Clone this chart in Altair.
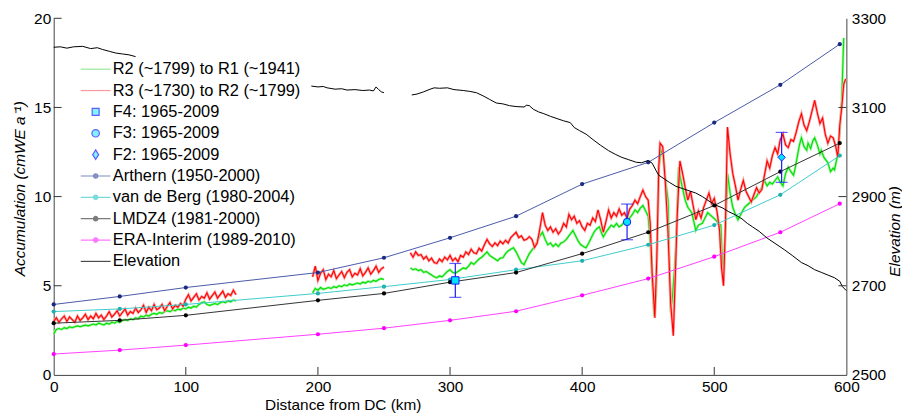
import altair as alt
import pandas as pd

FONT = "Liberation Sans"

# ---------------- data ----------------
model_km = [0, 50, 100, 200, 250, 300, 350, 400, 450, 500, 550, 595]
arthern = [3.95, 4.4, 4.9, 5.74, 6.57, 7.69, 8.9, 10.7, 11.92, 14.15, 16.27, 18.55]
vdberg = [3.55, 3.7, 3.95, 4.57, 4.95, 5.35, 5.9, 6.4, 7.3, 8.4, 10.1, 12.3]
lmdz4 = [2.9, 3.06, 3.34, 4.18, 4.57, 5.2, 5.74, 6.8, 8.0, 9.5, 11.4, 13.0]
era = [1.17, 1.39, 1.67, 2.28, 2.62, 3.06, 3.57, 4.46, 5.4, 6.63, 8.0, 9.6]

f_km = [304, 434, 551]
f_val = [5.3, 8.58, 12.2]
f_err = [0.95, 1.0, 1.4]

seg_a_km = list(range(0, 140, 2))
red_a = [3.0, 3.2, 2.95, 3.15, 3.3, 3.0, 3.25, 3.1, 2.95, 3.3,
         3.05, 3.2, 3.4, 3.1, 3.3, 3.15, 3.45, 3.2, 3.35, 3.1,
         3.3, 3.55, 3.25, 3.4, 3.6, 3.3, 3.5, 3.7, 3.35, 3.55,
         3.45, 3.75, 3.5, 3.65, 3.9, 3.5, 3.8, 3.6, 3.95, 3.65,
         3.75, 3.95, 3.6, 3.85, 4.05, 3.7, 3.9, 3.8, 4.0, 3.85,
         4.25, 4.5, 4.15, 4.35, 4.55, 4.2, 4.4, 4.3, 4.6, 4.25,
         4.45, 4.65, 4.3, 4.5, 4.7, 4.35, 4.55, 4.45, 4.75, 4.5]
green_a = [2.3, 2.55, 2.6, 2.55, 2.65, 2.6, 2.7, 2.65, 2.7, 2.75,
           2.7, 2.75, 2.8, 2.75, 2.8, 2.85, 2.8, 2.9, 2.85, 2.8,
           2.9, 2.85, 2.95, 2.9, 3.0, 2.95, 3.05, 3.1, 3.05, 3.15,
           3.1, 3.2, 3.15, 3.3, 3.25, 3.35, 3.3, 3.4, 3.45, 3.4,
           3.5, 3.45, 3.55, 3.6, 3.55, 3.65, 3.6, 3.7, 3.65, 3.75,
           3.7, 3.8, 3.75, 3.85, 3.8, 3.95, 4.05, 4.1, 3.95, 3.9,
           3.95, 4.0, 3.95, 4.05, 4.1, 4.05, 4.15, 4.1, 4.2, 4.15]

seg_b_km = list(range(196, 252, 2))
red_b = [5.5, 6.1, 5.3, 5.7, 5.9, 5.35, 5.65, 5.5, 5.85, 5.4,
         5.6, 5.8, 5.45, 5.75, 5.9, 5.5, 5.7, 5.6, 5.95, 5.55,
         5.75, 6.0, 5.65, 5.85, 6.1, 5.75, 5.95, 6.05]
green_b = [4.6, 4.85, 4.75, 4.9, 4.8, 4.85, 4.9, 4.85, 4.95, 4.9,
           5.0, 4.95, 5.05, 5.0, 5.1, 5.05, 5.1, 5.15, 5.1, 5.2,
           5.15, 5.25, 5.2, 5.3, 5.25, 5.35, 5.4, 5.35]

red_c = [(270, 6.85), (272, 6.6), (274, 6.9), (276, 6.7), (278, 6.75), (280, 6.5), (282, 6.65),
         (284, 6.4), (286, 6.55), (288, 6.3), (290, 6.25), (292, 6.5), (294, 6.35), (296, 6.6),
         (298, 6.45), (300, 6.7), (302, 6.4), (304, 6.55), (306, 6.35), (308, 6.7), (310, 6.6),
         (312, 6.9), (314, 6.75), (316, 7.05), (318, 6.85), (320, 6.8), (322, 7.1), (324, 6.95),
         (326, 7.3), (328, 7.6), (330, 7.35), (332, 7.2), (334, 7.4), (336, 7.25), (338, 7.5),
         (340, 7.35), (342, 7.55), (344, 7.4), (346, 7.7), (348, 7.85), (350, 8.0), (352, 7.7),
         (354, 7.8), (356, 7.55), (358, 7.6), (360, 7.75), (362, 7.6), (364, 7.15), (366, 7.4),
         (368, 8.2), (370, 9.1), (372, 8.4), (374, 8.1), (376, 8.3), (378, 8.0), (380, 8.2),
         (382, 7.9), (384, 8.1), (386, 8.5), (388, 8.3), (390, 9.0), (392, 8.7), (394, 8.9),
         (396, 8.5), (398, 8.65), (400, 8.3), (402, 8.1), (404, 8.5), (406, 8.4), (408, 8.8),
         (410, 8.6), (412, 9.25), (414, 8.7), (416, 8.0), (418, 8.6), (420, 9.25), (422, 8.8),
         (424, 9.1), (426, 8.9), (428, 9.3), (430, 8.95), (432, 9.1), (434, 8.8), (436, 9.3),
         (438, 9.5), (440, 9.8), (442, 9.6), (444, 10.0), (446, 10.36), (448, 10.0), (450, 9.8),
         (451.5, 8.5), (453, 5.7), (455, 3.2), (456.5, 6.5), (458, 11.65), (459, 13.0), (461, 12.8),
         (463, 10.75), (465, 8.0), (467, 4.0), (469, 2.2), (470.5, 5.5), (472, 9.0), (474, 12.0),
         (476, 11.3), (478, 10.5), (480, 9.8), (482, 10.3), (484, 9.5), (486, 8.7), (488, 9.2),
         (490, 8.8), (492, 9.4), (494, 9.8), (496, 10.2), (498, 9.6), (500, 9.9), (502, 9.2),
         (504, 8.1), (505.5, 6.0), (507, 5.0), (508.5, 8.5), (510, 13.9), (512, 12.4), (514, 11.3),
         (516, 10.6), (518, 9.8), (520, 10.4), (522, 10.9), (524, 10.3), (526, 10.0), (528, 9.7),
         (530, 10.1), (532, 10.5), (534, 10.2), (536, 10.4), (538, 11.2), (540, 12.0), (542, 11.6),
         (544, 12.3), (546, 12.75), (548, 12.4), (550, 13.2), (552, 13.5), (554, 12.9), (556, 12.75),
         (558, 13.2), (560, 13.1), (562, 13.6), (564, 14.2), (566, 14.65), (568, 14.0), (570, 13.7),
         (572, 14.2), (574, 14.8), (576, 15.4), (578, 14.7), (580, 14.1), (582, 14.4), (584, 13.5),
         (586, 13.0), (588, 13.4), (590, 13.3), (592, 12.8), (593.5, 12.2), (595, 14.0),
         (596.5, 15.0), (598, 16.3), (599.5, 16.6)]

green_c = [(270, 6.0), (272, 5.9), (274, 5.95), (276, 5.85), (278, 5.9), (280, 5.75), (282, 5.8),
           (284, 5.7), (286, 5.6), (288, 5.5), (290, 5.45), (292, 5.55), (294, 5.5), (296, 5.65),
           (298, 5.8), (300, 5.9), (302, 5.75), (304, 5.7), (306, 5.8), (308, 5.9), (310, 6.0),
           (312, 5.95), (314, 6.1), (316, 6.3), (318, 6.2), (320, 6.35), (322, 6.5), (324, 6.6),
           (326, 6.75), (328, 6.9), (330, 6.7), (332, 6.6), (334, 6.5), (336, 6.4), (338, 6.55),
           (340, 6.57), (342, 6.8), (344, 6.95), (346, 7.05), (348, 7.13), (350, 6.9), (352, 6.6),
           (354, 6.3), (356, 6.18), (358, 6.5), (360, 6.8), (362, 7.0), (364, 7.2), (366, 7.5),
           (368, 7.8), (370, 8.0), (372, 7.6), (374, 7.3), (376, 7.4), (378, 7.2), (380, 7.35),
           (382, 7.2), (384, 7.4), (386, 7.46), (388, 7.6), (390, 7.8), (392, 8.0), (393, 8.1),
           (395, 7.8), (397, 7.5), (399, 7.3), (401, 7.2), (403, 7.13), (405, 7.4), (407, 7.7),
           (409, 8.0), (411, 8.2), (413, 8.3), (415, 7.9), (416, 7.74), (418, 8.0), (420, 8.2),
           (422, 8.4), (424, 8.3), (426, 8.5), (428, 8.3), (430, 8.4), (432, 8.6), (434, 8.5),
           (436, 8.8), (438, 9.0), (440, 9.25), (442, 9.1), (444, 9.35), (446, 9.5), (448, 9.2),
           (450, 8.9), (451.5, 7.5), (453, 5.35), (454.5, 3.3), (456, 4.5), (457, 8.0), (458, 11.65),
           (459.5, 12.4), (461, 12.7), (463, 11.0), (465, 9.8), (466, 6.5), (467, 3.5), (468.5, 4.5),
           (470, 6.0), (471, 7.3), (472, 9.5), (473, 11.65), (475, 10.8), (478, 9.8), (480, 9.4),
           (483, 9.1), (486, 8.1), (488, 8.4), (491, 8.5), (493, 8.8), (495, 9.1), (498, 8.9),
           (501, 8.7), (503, 8.5), (505, 8.4), (506, 6.5), (507, 5.2), (508.5, 8.0), (510, 11.3),
           (512, 10.2), (514, 9.4), (516, 9.0), (518, 8.7), (520, 9.0), (523, 9.4), (526, 9.6),
           (529, 9.8), (532, 10.0), (534, 10.3), (536, 10.5), (538, 10.9), (540, 10.6), (542, 10.8),
           (544, 10.7), (546, 10.9), (548, 11.1), (550, 10.8), (552, 10.6), (554, 11.3), (556, 11.65),
           (558, 11.4), (560, 11.2), (561, 11.5), (563, 12.3), (564.5, 12.9), (566, 13.3), (568, 12.8),
           (570, 12.6), (571, 13.0), (573, 12.7), (574.5, 13.1), (576, 13.3), (578, 12.9), (580, 12.4),
           (581, 12.6), (583, 12.2), (586, 11.9), (588, 11.4), (590, 11.6), (591, 11.5), (593, 12.2),
           (595, 13.6), (596.5, 15.5), (598, 18.9)]

# elevation: visible parts (the stretch behind the legend is not shown in the figure)
elev_1 = [(0, 3235), (5, 3236), (10, 3233), (15, 3236), (22, 3237), (28, 3232), (33, 3234),
          (37, 3230), (42, 3226), (47, 3222), (52, 3220), (57, 3218), (62, 3214)]
elev_2 = [(195, 3148), (200, 3146), (204, 3147), (207, 3144), (213, 3141), (218, 3142), (222, 3139),
          (228, 3140), (234, 3138), (239, 3139), (242, 3137), (244, 3146), (246, 3140), (248, 3135),
          (250, 3133)]
elev_3 = [(271, 3128), (275, 3130), (280, 3135), (285, 3141), (288, 3144), (292, 3143), (298, 3144),
          (303, 3140), (310, 3138), (315, 3136), (320, 3133), (325, 3126), (330, 3118), (335, 3110),
          (340, 3108), (345, 3104), (350, 3102), (356, 3101), (358, 3105), (360, 3104), (363, 3096),
          (367, 3090), (371, 3086), (376, 3080), (381, 3075), (386, 3070), (391, 3066), (394, 3055),
          (398, 3048), (403, 3040), (409, 3026), (414, 3015), (420, 3003), (425, 2995), (430, 2988),
          (435, 2983), (441, 2977), (445, 2976), (450, 2981), (453, 2975), (456, 2958), (458, 2948),
          (462, 2940), (466, 2932), (471, 2923), (476, 2918), (481, 2913), (486, 2908), (491, 2900),
          (496, 2890), (501, 2881), (506, 2875), (511, 2866), (516, 2859), (521, 2850), (525, 2840),
          (529, 2832), (534, 2822), (540, 2807), (546, 2795), (553, 2781), (559, 2768), (566, 2752),
          (571, 2745), (576, 2736), (581, 2730), (586, 2724), (591, 2718), (595, 2710), (597, 2698),
          (600, 2689)]

x_ticks = [0, 100, 200, 300, 400, 500, 600]
acc_ticks = [0, 5, 10, 15, 20]
elev_ticks = [2500, 2700, 2900, 3100, 3300]

legend_names = ["R2 (~1799) to R1 (~1941)", "R3 (~1730) to R2 (~1799)", "F4: 1965-2009",
                "F3: 1965-2009", "F2: 1965-2009", "Arthern (1950-2000)",
                "van de Berg (1980-2004)", "LMDZ4 (1981-2000)", "ERA-Interim (1989-2010)",
                "Elevation"]

# ---------------- styling ----------------
LINE = "M-3,0H3"
LINE_DOT = "M-3,0H3M0.45,0A0.45,0.45,0,1,1,-0.45,0A0.45,0.45,0,1,1,0.45,0Z"
SQUARE = "M-0.7,-0.7H0.7V0.7H-0.7Z"
CIRCLE = "M0.75,0A0.75,0.75,0,1,1,-0.75,0A0.75,0.75,0,1,1,0.75,0Z"
DIAMOND = "M0,-0.95L0.6,0L0,0.95L-0.6,0Z"
legend_shapes = [LINE, LINE, SQUARE, CIRCLE, DIAMOND, LINE_DOT, LINE_DOT, LINE_DOT, LINE_DOT, LINE]
legend_strokes = ["#70e070", "#ff7070", "#1a1aff", "#1a1aff", "#1a1aff", "#4a5aa8", "#40cccc",
                  "#444444", "#ff40ff", "#000000"]
legend_fills = ["#70e070", "#ff7070", "#00e5ff", "#00e5ff", "#00e5ff", "#1a2a80", "#20b0b0",
                "#000000", "#ff00ff", "#000000"]

W, H = 798, 359

# ---------------- frames ----------------
def seg_frame(km, vals, seg):
    return pd.DataFrame({"km": km, "v": vals, "seg": seg})

def elev_frame(pts, seg):
    return pd.DataFrame({"km": [p[0] for p in pts], "e": [p[1] for p in pts], "seg": seg})

red_df = pd.concat([seg_frame(seg_a_km, red_a, "a"), seg_frame(seg_b_km, red_b, "b"),
                    seg_frame([p[0] for p in red_c], [p[1] for p in red_c], "c")], ignore_index=True)
green_df = pd.concat([seg_frame(seg_a_km, green_a, "a"), seg_frame(seg_b_km, green_b, "b"),
                      seg_frame([p[0] for p in green_c], [p[1] for p in green_c], "c")], ignore_index=True)
elev_df = pd.concat([elev_frame(elev_1, "a"), elev_frame(elev_2, "b"), elev_frame(elev_3, "c")],
                    ignore_index=True)
f_df = pd.DataFrame({"km": f_km, "v": f_val,
                     "lo": [v - e for v, e in zip(f_val, f_err)],
                     "hi": [v + e for v, e in zip(f_val, f_err)]})
legend_df = pd.DataFrame({"name": legend_names})

x_axis = alt.Axis(values=x_ticks, format="d", labelFlush=False, labelPadding=5, tickSize=0,
                  grid=False, title="Distance from DC (km)", titleX=291, titleY=30,
                  titleBaseline="middle", titleAlign="center")
left_axis = alt.Axis(values=acc_ticks, orient="left", labelPadding=3, tickSize=0, grid=False,
                     title="Accumulation (cmWE a⁻¹)", titleFontStyle="italic", titleAngle=270,
                     titleX=-34, titleY=171, titleBaseline="middle", titleAlign="center")
right_axis = alt.Axis(values=elev_ticks, format="d", orient="right", labelPadding=5, tickSize=0,
                      grid=False, title="Elevation (m)", titleFontStyle="italic", titleAngle=270,
                      titleX=48, titleY=214, titleBaseline="middle", titleAlign="center")

def X():
    return alt.X("km:Q", scale=alt.Scale(domain=[0, 600], nice=False), axis=x_axis)

def YA(field="v"):
    return alt.Y(f"{field}:Q", scale=alt.Scale(domain=[0, 20], nice=False), axis=left_axis)

def YE():
    return alt.Y("e:Q", scale=alt.Scale(domain=[2500, 3300], nice=False), axis=right_axis)

layers = []
# noisy reconstructions
for df, halo, core in [(green_df, "#a0f5a0", "#00e000"), (red_df, "#ffa0a0", "#ff0000")]:
    base = alt.Chart(df)
    layers.append(base.mark_line(strokeWidth=2.6, color=halo).encode(x=X(), y=YA(), detail="seg:N"))
    layers.append(base.mark_line(strokeWidth=1.1, color=core).encode(x=X(), y=YA(), detail="seg:N"))

# models
for vals, lc, dc in [(arthern, "#4a5aa8", "#1a2a80"), (vdberg, "#40cccc", "#20b0b0"),
                     (lmdz4, "#333333", "#000000"), (era, "#ff40ff", "#ff00ff")]:
    mdf = pd.DataFrame({"km": model_km, "v": vals})
    b = alt.Chart(mdf)
    layers.append(b.mark_line(strokeWidth=1.0, color=lc).encode(x=X(), y=YA()))
    layers.append(b.mark_circle(size=18, color=dc, opacity=1).encode(x=X(), y=YA()))

# firn cores with error bars
fb = alt.Chart(f_df)
layers.append(fb.mark_rule(color="#1a1aff", strokeWidth=1.2).encode(x=X(), y=YA("lo"), y2="hi:Q"))
layers.append(fb.mark_tick(color="#1a1aff", orient="horizontal", size=12, thickness=1.2).encode(x=X(), y=YA("lo")))
layers.append(fb.mark_tick(color="#1a1aff", orient="horizontal", size=12, thickness=1.2).encode(x=X(), y=YA("hi")))
for i, shp in enumerate(["square", "circle", "diamond"]):
    layers.append(alt.Chart(f_df.iloc[[i]]).mark_point(filled=True, fill="#00e5ff", stroke="#1a1aff",
                                                       strokeWidth=1, size=55, opacity=1, shape=shp)
                  .encode(x=X(), y=YA()))

# inward ticks
layers.append(alt.Chart(pd.DataFrame({"v": acc_ticks[1:]})).mark_rule(color="#333", strokeWidth=1)
              .encode(y=YA(), x=alt.value(0), x2=alt.value(8)))
layers.append(alt.Chart(pd.DataFrame({"km": x_ticks[1:-1]})).mark_rule(color="#333", strokeWidth=1)
              .encode(x=X(), y=alt.value(H), y2=alt.value(H - 8)))

# legend carrier
leg = alt.Legend(title=None, orient="none", legendX=15, legendY=38, padding=5,
                 fillColor="transparent", strokeColor="transparent",
                 labelFont=FONT, labelFontSize=16.5, labelColor="black", labelLimit=220,
                 symbolSize=100, symbolStrokeWidth=1.2, symbolOffset=14, labelOffset=9,
                 rowPadding=4.5)
layers.append(alt.Chart(legend_df).mark_point(filled=True).encode(
    fill=alt.Fill("name:N", scale=alt.Scale(domain=legend_names, range=legend_fills), legend=leg),
    stroke=alt.Stroke("name:N", scale=alt.Scale(domain=legend_names, range=legend_strokes), legend=leg),
    shape=alt.Shape("name:N", scale=alt.Scale(domain=legend_names, range=legend_shapes), legend=leg),
    size=alt.value(0)))

acc = alt.layer(*layers)

elev = alt.layer(
    alt.Chart(elev_df).mark_line(color="black", strokeWidth=1).encode(x=X(), y=YE(), detail="seg:N"),
    alt.Chart(pd.DataFrame({"e": elev_ticks[1:-1]})).mark_rule(color="#333", strokeWidth=1)
    .encode(y=YE(), x=alt.value(W), x2=alt.value(W - 8)),
)

chart = (alt.layer(acc, elev)
         .resolve_scale(y="independent")
         .properties(width=W, height=H, autosize=alt.AutoSizeParams(type="none"),
                     padding={"left": 46, "top": 9, "right": 56, "bottom": 37})
         .configure_view(strokeWidth=0)
         .configure_axis(labelFont=FONT, labelFontSize=15.5, labelColor="black",
                         titleFont=FONT, titleFontSize=15.5, titleFontWeight="normal",
                         titleColor="black", domainColor="#444444", domainWidth=1))

chart.save("out.html", embed_options={"renderer": "svg", "actions": False})
